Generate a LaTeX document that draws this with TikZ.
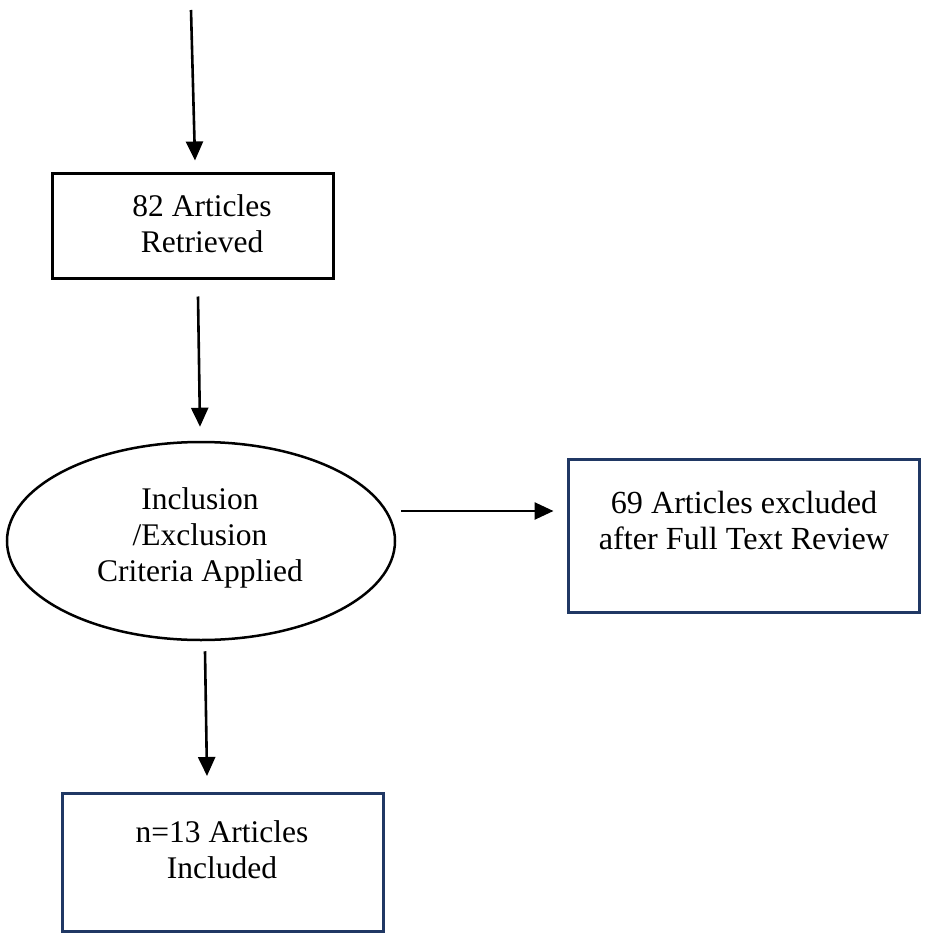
\documentclass[tikz,border=0pt]{standalone}
\usepackage{fontspec}
\setmainfont{Liberation Serif}
\usetikzlibrary{arrows.meta,shapes.geometric,calc}
\definecolor{navy}{RGB}{32,56,100}
\begin{document}
\begin{tikzpicture}[x=1pt,y=-1pt,
  arr/.style={line width=2.6pt,-{Triangle[length=19pt,width=17pt]}},
  blackbox/.style={draw=black,line width=3pt,rectangle,inner sep=0pt},
  navybox/.style={draw=navy,line width=3pt,rectangle,inner sep=0pt},
  txt/.style={align=center,inner sep=0pt,font=\fontsize{31.5}{36}\selectfont},
  bigtxt/.style={align=center,inner sep=0pt,font=\fontsize{32.2}{36}\selectfont}]
\useasboundingbox[fill=white] (0,0) rectangle (936,933);
\node[blackbox,minimum width=281pt,minimum height=104pt] (b1) at (192.5,226) {};
\node[draw=black,line width=2.5pt,ellipse,minimum width=388pt,minimum height=198pt,inner sep=0pt] (ell) at (201,541) {};
\node[navybox,minimum width=351pt,minimum height=153pt] (rb) at (743.5,535.5) {};
\node[navybox,minimum width=321pt,minimum height=138pt] (bb) at (222.5,862.5) {};
\node[txt] (t1) at (202,224) {82 Articles\\Retrieved};
\node[txt] (t2) at (200,538) {Inclusion\\/Exclusion\\Criteria Applied};
\node[bigtxt] (t3) at (744,520) {69 Articles excluded\\after Full Text Review};
\node[txt] (t4) at (222,850) {n=13 Articles\\Included};
\coordinate (start) at (191,10);
\draw[arr] (start) -- ($(b1.north)+(2.5,-12)$);
\draw[arr] ($(b1.south)+(5.5,17)$) -- ($(ell.north)+(-1,-14)$);
\draw[arr] ($(ell.east)+(5,-30)$) -- ($(rb.west)+(-13,-24.5)$);
\draw[arr] ($(ell.south)+(4,10)$) -- ($(bb.north)+(-15.5,-16)$);
\end{tikzpicture}
\end{document}
